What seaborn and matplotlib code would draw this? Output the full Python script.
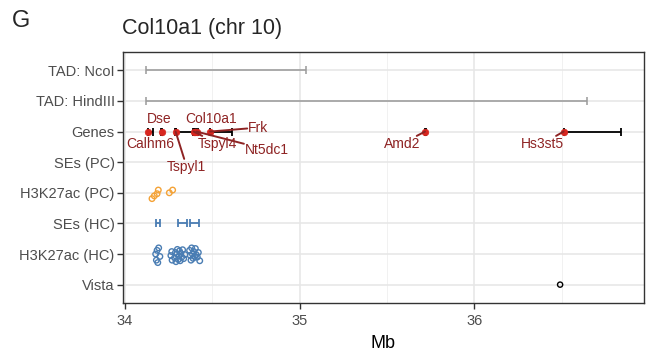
import matplotlib
matplotlib.use("Agg")
import matplotlib.pyplot as plt
import seaborn as sns
import pandas as pd
import numpy as np

# ---------------- data ----------------
rows = ["TAD: NcoI", "TAD: HindIII", "Genes", "SEs (PC)", "H3K27ac (PC)",
        "SEs (HC)", "H3K27ac (HC)", "Vista"]

tad_names = ["TAD: NcoI", "TAD: HindIII"]
tad_start = [34.118, 34.118]
tad_end = [35.038, 36.645]

gene_names = ["Calhm6", "Dse", "Tspyl1", "Tspyl4", "Col10a1", "Nt5dc1", "Frk", "Amd2", "Hs3st5"]
gene_pos = [34.132, 34.210, 34.290, 34.393, 34.402, 34.410, 34.487, 35.717, 36.510]
gene_start = [34.130, 34.205, 34.286, 34.390, 34.398, 34.290, 34.487, 35.715, 36.510]
gene_end = [34.162, 34.214, 34.294, 34.396, 34.406, 34.420, 34.610, 35.720, 36.840]

se_hc_start = [34.175, 34.304, 34.372]
se_hc_end = [34.203, 34.358, 34.424]

k27_pc_x = [34.155, 34.168, 34.184, 34.191, 34.254, 34.273]
k27_pc_jit = [0.19, 0.10, 0.03, -0.09, 0.00, -0.09]

k27_hc_x = [34.176, 34.180, 34.184, 34.188, 34.193, 34.200,
            34.263, 34.268, 34.270, 34.284, 34.289, 34.292, 34.297, 34.300,
            34.305, 34.309, 34.312, 34.316, 34.320, 34.325, 34.330, 34.336, 34.343,
            34.370, 34.374, 34.378, 34.382, 34.386, 34.390, 34.394, 34.398,
            34.403, 34.408, 34.414, 34.420, 34.428]
k27_hc_jit = [0.00, 0.20, -0.12, 0.28, -0.20, 0.08,
              0.05, -0.08, 0.20, 0.12, -0.05, 0.25, 0.00, -0.15,
              0.18, 0.06, -0.10, 0.22, -0.02, 0.10, -0.14, 0.15, 0.02,
              -0.12, 0.05, 0.20, -0.20, 0.00, 0.14, -0.08, 0.08,
              -0.18, 0.02, 0.10, -0.05, 0.22]

vista_x = [36.49]

# ---------------- styling ----------------
sns.set_style("white")
plt.rcParams["font.family"] = ["Liberation Sans", "DejaVu Sans"]

label_offsets = {  # pixel offsets of labels from their point
    "Calhm6": (2, -12), "Dse": (-2, 13), "Tspyl1": (11, -35), "Tspyl4": (24, -12),
    "Col10a1": (16, 13), "Nt5dc1": (70, -18), "Frk": (48, 4),
    "Amd2": (-23, -12), "Hs3st5": (-21, -12),
}
with_segment = {"Tspyl1", "Tspyl4", "Nt5dc1", "Frk", "Amd2", "Hs3st5"}

ORANGE = "#F4A236"
BLUE = "#4A7DB3"
GENE_RED = "#D8261F"
LABEL_RED = "#8E2323"
GREY = "#9A9A9A"

ypos = {r: i for i, r in enumerate(rows)}

fig = plt.figure(figsize=(6.66, 3.53), dpi=100)
ax = fig.add_axes([123 / 666, 1 - 303 / 353, 521 / 666, 251 / 353])

# grid
for v in [34.5, 35.5, 36.5]:
    ax.axvline(v, color="#EFEFEF", lw=0.6, zorder=0)
for v in [34, 35, 36]:
    ax.axvline(v, color="#E6E6E6", lw=1.1, zorder=0)
for i in range(len(rows)):
    ax.axhline(i, color="#E6E6E6", lw=1.1, zorder=0)

# TADs
tad_df = pd.DataFrame({"row": tad_names, "start": tad_start, "end": tad_end})
tad_df["y"] = tad_df["row"].map(ypos)
tad_df["mid"] = (tad_df["start"] + tad_df["end"]) / 2
tad_df["half"] = (tad_df["end"] - tad_df["start"]) / 2
ax.errorbar(tad_df["mid"], tad_df["y"], xerr=tad_df["half"], fmt="none",
            ecolor=GREY, elinewidth=1.1, capsize=2.6, capthick=1.1, zorder=2)

# gene spans
g = pd.DataFrame({"name": gene_names, "pos": gene_pos, "start": gene_start, "end": gene_end})
g["y"] = ypos["Genes"]
g["mid"] = (g["start"] + g["end"]) / 2
g["half"] = (g["end"] - g["start"]) / 2
ax.errorbar(g["mid"], g["y"], xerr=g["half"], fmt="none", ecolor="black",
            elinewidth=1.3, capsize=2.6, capthick=1.3, zorder=3)
sns.scatterplot(data=g, x="pos", y="y", color=GENE_RED, s=22, edgecolor=GENE_RED,
                linewidth=0.5, ax=ax, zorder=4, legend=False)

# SEs (HC)
se = pd.DataFrame({"start": se_hc_start, "end": se_hc_end})
se["y"] = ypos["SEs (HC)"]
ax.errorbar((se["start"] + se["end"]) / 2, se["y"], xerr=(se["end"] - se["start"]) / 2,
            fmt="none", ecolor=BLUE, elinewidth=1.3, capsize=2.6, capthick=1.3, zorder=3)

# H3K27ac points
pc = pd.DataFrame({"x": k27_pc_x, "y": np.array(k27_pc_jit) + ypos["H3K27ac (PC)"]})
sns.scatterplot(data=pc, x="x", y="y", marker="o", s=16, facecolor="none",
                edgecolor=ORANGE, linewidth=1.0, ax=ax, zorder=3, legend=False)
hc = pd.DataFrame({"x": k27_hc_x, "y": np.array(k27_hc_jit) + ypos["H3K27ac (HC)"]})
sns.scatterplot(data=hc, x="x", y="y", marker="o", s=16, facecolor="none",
                edgecolor=BLUE, linewidth=1.0, ax=ax, zorder=3, legend=False)

# Vista
vi = pd.DataFrame({"x": vista_x, "y": [ypos["Vista"]] * len(vista_x)})
sns.scatterplot(data=vi, x="x", y="y", marker="o", s=14, facecolor="none",
                edgecolor="black", linewidth=1.0, ax=ax, zorder=3, legend=False)

# gene labels
for _, r in g.iterrows():
    dx, dy = label_offsets[r["name"]]
    kw = {}
    if r["name"] in with_segment:
        kw["arrowprops"] = dict(arrowstyle="-", color=LABEL_RED, lw=1.4,
                                shrinkA=0, shrinkB=0)
    ax.annotate(r["name"], xy=(r["pos"], r["y"]), xytext=(dx, dy),
                textcoords="offset pixels", ha="center", va="center",
                fontsize=10, color=LABEL_RED, zorder=5,
                bbox=dict(boxstyle="square,pad=0.05", fc="none", ec="none"), **kw)

# axes
ax.set_xlim(33.989, 36.97)
ax.set_ylim(len(rows) - 1 + 0.6, -0.6)
ax.set_yticks(range(len(rows)))
ax.set_yticklabels(rows)
ax.set_xticks([34, 35, 36])
ax.set_xticklabels(["34", "35", "36"])
ax.set_xlabel("Mb", fontsize=13, color="black", labelpad=5)
ax.set_ylabel("")
ax.tick_params(axis="y", which="major", length=4, width=1.0, color="#333333",
               labelsize=10.5, labelcolor="#4D4D4D", pad=2, left=True)
ax.tick_params(axis="x", which="major", length=4, width=1.0, color="#333333",
               labelsize=10.5, labelcolor="#4D4D4D", pad=4, bottom=True)
for s in ax.spines.values():
    s.set_color("#333333")
    s.set_linewidth(1.0)
    s.set_visible(True)

fig.text(122.5 / 666, 1 - 34.3 / 353, "Col10a1 (chr 10)", fontsize=15.5,
         ha="left", va="baseline")
fig.text(11.5 / 666, 1 - 26.7 / 353, "G", fontsize=17, ha="left", va="baseline")

fig.savefig("out.png", dpi=100)
